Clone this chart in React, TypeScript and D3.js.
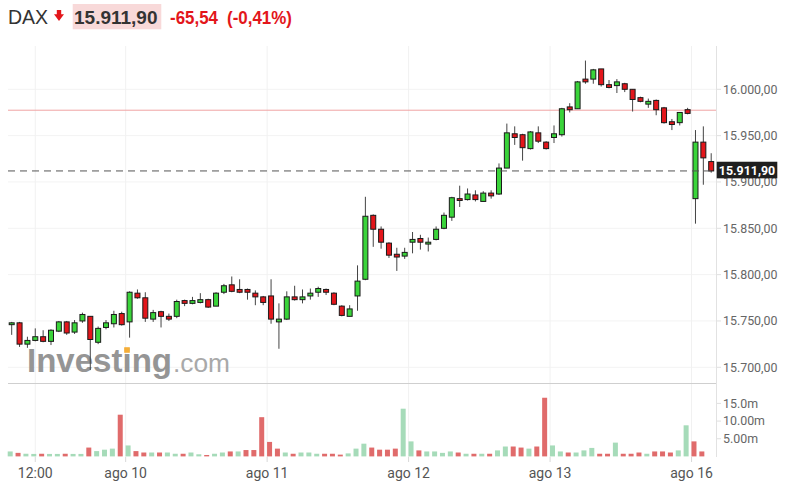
import React from "react";
import * as d3 from "d3";

// ---- Data ----
const candleOpen = [
  15746, 15748, 15725, 15729, 15733, 15728, 15739, 15749, 15738, 15750,
  15755, 15727, 15743, 15747, 15758, 15749, 15780, 15775, 15752, 15760,
  15755, 15755, 15772, 15769, 15770, 15773, 15766, 15781, 15789, 15784,
  15784, 15780, 15776, 15777, 15749, 15752, 15776, 15773, 15777, 15781,
  15784, 15780, 15766, 15755, 15777, 15795, 15864, 15849, 15834, 15822,
  15820, 15835, 15839, 15833, 15838, 15850, 15862, 15882, 15881, 15886,
  15879, 15888, 15887, 15915, 15952, 15951, 15936, 15953, 15943, 15948,
  15951, 15981, 15979, 16011, 16011, 16022, 16005, 16004, 16006, 16000,
  15991, 15984, 15988, 15980, 15965, 15964, 15978, 15882, 15943, 15922,
];
const candleHigh = [
  15749, 15749, 15733, 15742, 15740, 15741, 15750, 15750, 15751, 15759,
  15755, 15744, 15751, 15761, 15760, 15782, 15784, 15781, 15762, 15761,
  15758, 15773, 15773, 15776, 15780, 15774, 15781, 15790, 15798, 15795,
  15785, 15783, 15777, 15795, 15769, 15782, 15788, 15784, 15785, 15787,
  15785, 15781, 15767, 15767, 15810, 15884, 15865, 15852, 15835, 15829,
  15829, 15846, 15843, 15840, 15852, 15867, 15884, 15896, 15893, 15891,
  15890, 15891, 15920, 15963, 15960, 15952, 15955, 15960, 15944, 15961,
  15980, 15985, 16009, 16031, 16022, 16022, 16010, 16011, 16007, 16000,
  15992, 15990, 15989, 15981, 15968, 15975, 15980, 15956, 15960, 15931,
];
const candleLow = [
  15735, 15722, 15721, 15728, 15727, 15724, 15738, 15735, 15736, 15748,
  15697, 15725, 15741, 15743, 15745, 15732, 15774, 15749, 15749, 15743,
  15750, 15753, 15766, 15768, 15769, 15764, 15766, 15779, 15781, 15780,
  15773, 15767, 15767, 15747, 15720, 15751, 15772, 15769, 15773, 15776,
  15778, 15767, 15755, 15755, 15761, 15794, 15830, 15828, 15818, 15804,
  15817, 15823, 15827, 15825, 15837, 15849, 15858, 15873, 15880, 15879,
  15879, 15882, 15886, 15915, 15940, 15923, 15935, 15942, 15935, 15942,
  15949, 15975, 15979, 16006, 16006, 16003, 16001, 15996, 15997, 15976,
  15986, 15980, 15972, 15963, 15956, 15961, 15973, 15855, 15897, 15910,
];
const candleClose = [
  15748, 15725, 15729, 15733, 15728, 15740, 15749, 15737, 15748, 15757,
  15730, 15742, 15748, 15757, 15746, 15781, 15775, 15753, 15759, 15755,
  15752, 15771, 15769, 15772, 15773, 15765, 15780, 15788, 15782, 15781,
  15781, 15776, 15770, 15752, 15752, 15776, 15773, 15776, 15780, 15785,
  15781, 15768, 15756, 15763, 15793, 15863, 15849, 15835, 15821, 15819,
  15824, 15838, 15835, 15835, 15849, 15864, 15883, 15880, 15887, 15881,
  15888, 15885, 15915, 15953, 15948, 15937, 15954, 15944, 15936, 15952,
  15979, 15978, 16008, 16008, 16021, 16005, 16002, 16008, 16000, 15989,
  15987, 15987, 15978, 15964, 15962, 15975, 15974, 15943, 15926, 15911.9,
];

// volume in millions, and direction (1 = up / green, 0 = down / red)
const volumes = [
  1.4, 1.0, 0.75, 0.7, 0.75, 0.7, 0.7, 0.75, 0.7, 0.7,
  2.5, 1.5, 1.9, 2.2, 11.8, 3.1, 1.5, 1.1, 1.1, 1.1,
  1.1, 0.75, 0.75, 1.1, 0.6, 0.4, 0.75, 1.1, 1.4, 1.4,
  1.8, 1.8, 11.1, 4.1, 2.2, 1.1, 0.75, 1.1, 1.1, 0.75,
  0.75, 0.75, 0.5, 0.85, 2.2, 3.6, 2.5, 1.9, 1.9, 2.2,
  13.5, 4.25, 1.7, 1.4, 1.4, 1.0, 1.4, 1.1, 0.75, 0.75,
  0.75, 0.75, 1.7, 2.8, 2.8, 2.5, 2.2, 2.8, 16.6, 3.1,
  1.4, 1.1, 1.1, 1.7, 2.4, 0.75, 0.75, 3.9, 0.75, 0.75,
  1.1, 0.75, 1.4, 1.4, 1.1, 1.7, 8.8, 4.25, 1.4,
];
const volumeUp = [
  1, 0, 1, 1, 0, 1, 1, 0, 1, 1,
  0, 1, 1, 1, 0, 1, 0, 0, 1, 0,
  1, 1, 0, 1, 1, 0, 1, 1, 0, 1,
  0, 0, 0, 0, 0, 1, 0, 1, 1, 1,
  0, 0, 0, 1, 1, 1, 0, 0, 0, 0,
  1, 1, 0, 1, 1, 1, 1, 0, 1, 0,
  1, 0, 1, 1, 0, 0, 1, 0, 0, 1,
  1, 0, 1, 1, 1, 0, 0, 1, 0, 0,
  0, 1, 0, 0, 0, 1, 1, 0, 0,
];

const priceTicks = [15700, 15750, 15800, 15850, 15900, 15950, 16000];
const priceTickLabels = ["15.700,00", "15.750,00", "15.800,00", "15.850,00", "15.900,00", "15.950,00", "16.000,00"];
const volumeTicks = [5, 10, 15];
const volumeTickLabels = ["5.00m", "10.00m", "15.0m"];
const timeTickIndex = [3, 14.5, 32.5, 50.5, 68.5, 86.5];
const timeTickLabels = ["12:00", "ago 10", "ago 11", "ago 12", "ago 13", "ago 16"];

const symbolName = "DAX";
const lastPriceLabel = "15.911,90";
const changeLabel = "-65,54";
const changePctLabel = "(-0,41%)";
const lastPrice = 15911.9;
const prevClose = 15977.44;

// ---- Styles ----
const GREEN = "#3ad43a";
const RED = "#e3161b";
const VOL_GREEN = "#a6dbb9";
const VOL_RED = "#e06b6b";
const AXIS_FONT = "Roboto, 'Liberation Sans', Arial, sans-serif";
const TITLE_FONT = "'Liberation Sans', Arial, sans-serif";

export default function App() {
  const W = 788;
  const H = 493;
  const plotLeft = 8;
  const plotRight = 716;
  const plotTop = 46;
  const sepY = 383.5;
  const volBottom = 457;

  const x = d3.scaleLinear().domain([0, candleOpen.length - 1]).range([11.7, 711.2]);
  const y = d3.scaleLinear().domain([15700, 16000]).range([367.3, 89.3]);
  const yv = d3.scaleLinear().domain([0, 15]).range([456.4, 403.4]);

  const bodyW = 5;
  const volW = 5;

  return (
    <div style={{ position: "fixed", left: 0, top: 0, width: W, height: H, background: "#fff" }}>
      <svg width={W} height={H} viewBox={`0 0 ${W} ${H}`} style={{ display: "block" }}>
        <rect x={0} y={0} width={W} height={H} fill="#fff" />

        {/* Header */}
        <text x={8} y={23.5} fontFamily={TITLE_FONT} fontSize={19.5} fill="#333">{symbolName}</text>
        <path d="M56.8,10 L61.2,10 L61.2,14.2 L64,14.2 L59,21 L54,14.2 L56.8,14.2 Z" fill={RED} />
        <rect x={72.7} y={4} width={88.6} height={25.3} fill="#f8d9d9" />
        <text x={74} y={23.5} fontFamily={TITLE_FONT} fontSize={19} fontWeight="bold" fill="#333">{lastPriceLabel}</text>
        <text x={170} y={23.5} fontFamily={TITLE_FONT} fontSize={19} fontWeight="bold" fill={RED}
          textLength={48} lengthAdjust="spacingAndGlyphs">{changeLabel}</text>
        <text x={227} y={23.5} fontFamily={TITLE_FONT} fontSize={19} fontWeight="bold" fill={RED}
          textLength={65} lengthAdjust="spacingAndGlyphs">{changePctLabel}</text>

        {/* Grid */}
        {priceTicks.map((p, i) => (
          <line key={"hg" + i} x1={plotLeft} x2={plotRight} y1={y(p)} y2={y(p)} stroke="#f3f3f3" strokeWidth={1} />
        ))}
        {timeTickIndex.map((t, i) => (
          <line key={"vg" + i} x1={x(t)} x2={x(t)} y1={plotTop} y2={volBottom} stroke="#f1f1f1" strokeWidth={1} />
        ))}

        {/* Watermark */}
        <g opacity={0.9}>
          <text x={27} y={372} fontFamily={TITLE_FONT} fontSize={33} fontWeight="bold" fill="#8a8a8a"
            textLength={145} lengthAdjust="spacingAndGlyphs">Investing</text>
          <text x={173} y={372} fontFamily={TITLE_FONT} fontSize={26} fill="#a0a0a0"
            textLength={57} lengthAdjust="spacingAndGlyphs">.com</text>
          <rect x={124.2} y={347.2} width={5.6} height={5.6} fill="#f5a623" />
        </g>

        {/* Previous close line */}
        <line x1={plotLeft} x2={plotRight} y1={y(prevClose)} y2={y(prevClose)} stroke="#f0a3a3" strokeWidth={1} />

        {/* Candles */}
        {candleOpen.map((o, i) => {
          const c = candleClose[i];
          const up = c >= o;
          const cx = x(i);
          const top = y(Math.max(o, c));
          const bot = y(Math.min(o, c));
          const h = Math.max(bot - top, 1.5);
          return (
            <g key={"c" + i}>
              <line x1={cx} x2={cx} y1={y(candleHigh[i])} y2={y(candleLow[i])} stroke="#444" strokeWidth={1} />
              <rect x={cx - bodyW / 2} y={top} width={bodyW} height={h} fill={up ? GREEN : RED} stroke="#1a1a1a" strokeWidth={1} />
            </g>
          );
        })}

        {/* Last price dashed line */}
        <line x1={plotLeft} x2={plotRight} y1={y(lastPrice)} y2={y(lastPrice)} stroke="#555" strokeWidth={1} strokeDasharray="7,5" />

        {/* Separator & right axis line */}
        <line x1={plotLeft} x2={plotRight} y1={sepY} y2={sepY} stroke="#cfcfcf" strokeWidth={1} />
        <line x1={plotRight + 0.5} x2={plotRight + 0.5} y1={plotTop} y2={volBottom} stroke="#e2e2e2" strokeWidth={1} />

        {/* Volume */}
        {volumes.map((v, i) => (
          <rect key={"v" + i} x={x(i) - 1.5 - volW / 2} y={yv(v)} width={volW} height={yv(0) - yv(v)}
            fill={volumeUp[i] ? VOL_GREEN : VOL_RED} />
        ))}

        {/* Price axis labels */}
        {priceTicks.map((p, i) => (
          <g key={"pl" + i}>
            <line x1={plotRight + 1} x2={plotRight + 5} y1={y(p)} y2={y(p)} stroke="#e0e0e0" />
            <text x={723} y={y(p) + 4.3} fontFamily={AXIS_FONT} fontSize={12.4} fill="#666">{priceTickLabels[i]}</text>
          </g>
        ))}

        {/* Last price tag */}
        <rect x={716.7} y={y(lastPrice) - 9.2} width={60.6} height={16.6} fill="#1f1f1f" />
        <text x={747} y={y(lastPrice) + 4.4} textAnchor="middle" fontFamily={AXIS_FONT} fontSize={12.4} fontWeight="bold" fill="#fff">{lastPriceLabel}</text>

        {/* Volume axis labels */}
        {volumeTicks.map((v, i) => (
          <g key={"vl" + i}>
            <line x1={plotRight + 1} x2={plotRight + 5} y1={yv(v)} y2={yv(v)} stroke="#e0e0e0" />
            <text x={723} y={yv(v) + 4.3} fontFamily={AXIS_FONT} fontSize={12.4} fill="#666">{volumeTickLabels[i]}</text>
          </g>
        ))}

        {/* Time axis */}
        {timeTickIndex.map((t, i) => (
          <g key={"tl" + i}>
            <line x1={x(t)} x2={x(t)} y1={volBottom} y2={volBottom + 5} stroke="#d8d8d8" />
            <text x={x(t)} y={478} textAnchor="middle" fontFamily={AXIS_FONT} fontSize={14} fill="#555">{timeTickLabels[i]}</text>
          </g>
        ))}
      </svg>
    </div>
  );
}
